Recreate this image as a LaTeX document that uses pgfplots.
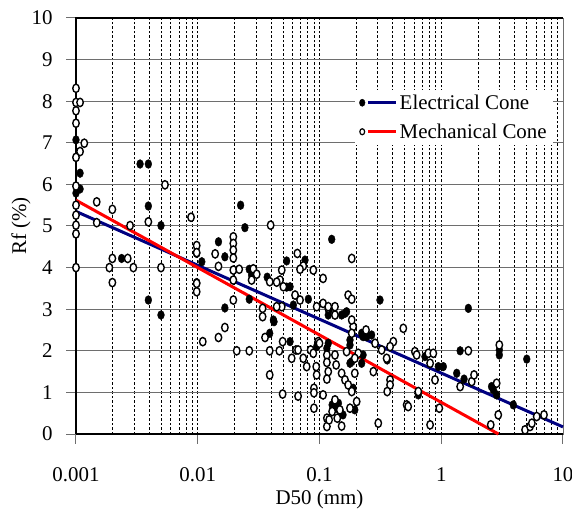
\documentclass[border=0pt]{standalone}
\usepackage{pgfplots}
\pgfplotsset{compat=1.18}
\usepackage{fontspec}
\setmainfont{Liberation Serif}
\definecolor{navy}{RGB}{0,0,128}
\definecolor{gridgray}{RGB}{110,110,110}
\begin{document}
\begin{tikzpicture}
\begin{axis}[
  at={(0,0)}, anchor=south west,
  scale only axis, width=487bp, height=416bp,
  xmode=log, xmin=0.001, xmax=10, ymin=0, ymax=10,
  ytick={0,1,...,10},
  xtick={0.001,0.01,0.1,1,10},
  minor xtick={0.002,0.003,0.004,0.005,0.006,0.007,0.008,0.009,
               0.02,0.03,0.04,0.05,0.06,0.07,0.08,0.09,
               0.2,0.3,0.4,0.5,0.6,0.7,0.8,0.9,
               2,3,4,5,6,7,8,9},
  xticklabels={0.001,0.01,0.1,1,10},
  /pgf/number format/assume math mode=true,
  font=\fontsize{21}{25}\selectfont,
  tick label style={font=\fontsize{21}{25}\selectfont},
  yticklabel style={xshift=-10bp},
  xticklabel style={yshift=-20bp},
  xmajorgrids, xminorgrids, ymajorgrids,
  major x grid style={black, line width=0.6bp, dash pattern=on 2.5bp off 2bp},
  minor x grid style={black, line width=0.6bp, dash pattern=on 2.5bp off 2bp},
  major y grid style={gridgray, line width=1bp},
  axis line style={gridgray, line width=0.8bp},
  tick pos=left, tick align=outside,
  major tick length=10bp, minor tick length=0pt,
  tick style={gridgray, line width=1bp},
  clip=false,
  xlabel={D50 (mm)}, ylabel={Rf (\%)},
  every axis x label/.style={at={(axis description cs:0.5,0)}, yshift=-65bp, anchor=center},
  every axis y label/.style={at={(axis description cs:0,0.5)}, xshift=-55bp, rotate=90, anchor=center},
  legend style={at={(rel axis cs:0.573,0.828)}, anchor=north west, draw=none, fill=white,
    font=\fontsize{21}{25}\selectfont, inner xsep=4bp, inner ysep=3bp, row sep=9bp,
    legend cell align=left},
]
\draw[black, line width=2bp] (rel axis cs:0,0) -- (rel axis cs:0,1) -- (rel axis cs:1,1);
\draw[black, line width=2bp] (rel axis cs:0,0) -- (rel axis cs:1,0);

% Electrical Cone (filled)
\addplot[only marks, mark=*, mark size=4bp, mark options={fill=black, draw=black, xscale=0.85, yscale=1.1}, forget plot] coordinates {
(0.001,7.07)(0.00108,6.27)(0.00108,5.89)(0.001,5.79)(0.00237,4.22)(0.00336,6.49)(0.00393,6.49)
(0.00393,5.48)(0.00393,3.22)(0.00499,5.01)(0.00499,2.86)(0.0098,4.34)(0.0108,4.14)(0.0098,3.64)
(0.0148,4.62)(0.0167,4.26)(0.0167,3.03)(0.0225,5.50)(0.0244,4.96)(0.0265,3.96)(0.0277,3.82)
(0.0265,3.24)(0.0372,3.77)(0.0418,2.74)(0.0537,4.16)(0.0537,3.53)(0.0573,3.54)(0.076,4.18)
(0.081,3.24)(0.061,3.10)(0.039,2.42)(0.0423,2.70)(0.0573,2.22)(0.0948,2.10)(0.126,4.68)
(0.314,3.22)(0.12,2.98)(0.118,2.86)(0.152,2.86)(0.162,2.90)(0.167,2.94)(0.118,2.18)(0.115,2.06)
(0.127,0.70)(0.143,0.74)(0.137,0.62)(0.156,0.46)(0.189,1.10)(0.195,0.58)(0.178,2.26)(0.178,2.14)
(0.178,1.70)(0.184,1.74)(0.222,2.42)(0.228,2.34)(0.244,2.34)(0.228,1.90)(0.222,1.70)(0.268,2.38)
(0.36,1.78)(0.648,0.94)(0.735,1.86)(0.946,1.62)(1.04,1.62)(1.34,1.46)(1.67,3.02)(1.43,2.0)
(3.0,2.02)(3.0,1.90)(5.04,1.80)(1.54,1.32)(2.59,1.14)(2.68,1.06)(2.85,0.94)(3.91,0.70)
};
% Mechanical Cone (open)
\addplot[only marks, mark=*, mark size=3.8bp, mark options={fill=white, draw=black, line width=1.4bp, xscale=0.85, yscale=1.1}, forget plot] coordinates {
(0.001,8.31)(0.001,7.97)(0.00108,7.97)(0.001,7.77)(0.001,7.47)(0.00117,6.99)(0.00108,6.79)
(0.001,6.65)(0.001,5.96)(0.001,5.5)(0.001,5.26)(0.001,5.02)(0.001,4.81)(0.001,4.0)
(0.00148,5.58)(0.00148,5.08)(0.00199,5.40)(0.00199,4.22)(0.00188,4.0)(0.00199,3.64)
(0.00266,4.22)(0.00296,4.0)(0.00278,5.01)(0.00393,5.10)(0.00499,4.0)(0.00538,5.99)
(0.00881,5.21)(0.0098,4.53)(0.0098,3.42)(0.0098,4.36)(0.0098,3.62)(0.0139,4.33)(0.0148,4.03)
(0.0196,4.74)(0.0196,4.58)(0.0196,4.42)(0.0196,4.23)(0.0196,3.94)(0.0196,3.70)(0.0196,3.22)
(0.0219,3.96)(0.0286,3.97)(0.0305,3.84)(0.0277,3.70)(0.0397,5.02)(0.0341,3.02)(0.0341,2.82)
(0.049,3.94)(0.0474,3.70)(0.0445,3.65)(0.0505,3.54)(0.0658,4.34)(0.0736,4.04)(0.0692,3.96)
(0.089,3.94)(0.107,3.74)(0.063,3.34)(0.0692,3.22)(0.0948,3.06)(0.107,3.14)(0.118,3.02)
(0.049,3.06)(0.0445,3.06)(0.039,3.66)(0.011,2.22)(0.0148,2.32)(0.0167,2.56)(0.0209,2.0)
(0.0265,2.0)(0.0357,2.32)(0.039,2.0)(0.0468,2.0)(0.0498,2.22)(0.039,1.42)(0.0498,0.96)
(0.0591,1.82)(0.0641,2.02)(0.0667,2.02)(0.0736,1.82)(0.0785,1.62)(0.0667,0.91)(0.0845,2.02)
(0.089,1.94)(0.094,1.62)(0.0948,1.42)(0.090,1.10)(0.090,0.99)(0.090,0.62)(0.107,0.94)
(0.0975,2.22)(0.115,1.90)(0.115,1.72)(0.118,1.50)(0.115,1.32)(0.115,0.38)(0.115,0.18)
(0.1,2.18)(0.134,1.90)(0.137,1.66)(0.152,1.46)(0.162,1.30)(0.172,1.18)(0.134,0.82)
(0.147,0.58)(0.140,0.38)(0.152,0.19)(0.120,0.34)(0.127,0.54)(0.184,1.02)(0.202,0.78)
(0.178,0.62)(0.195,1.46)(0.189,2.58)(0.184,2.42)(0.167,1.98)(0.208,1.94)(0.195,1.82)
(0.277,1.50)(0.286,2.18)(0.304,0.26)(0.324,2.02)(0.356,1.82)(0.404,2.22)(0.38,2.10)
(0.38,1.30)(0.38,1.18)(0.36,1.02)(0.488,2.54)(0.52,0.70)(0.535,0.66)(0.608,1.98)(0.628,1.90)
(0.648,1.02)(0.783,1.94)(0.861,1.94)(0.81,1.70)(0.889,1.30)(0.81,0.22)(0.964,0.62)
(1.43,1.14)(1.67,2.0)(3.0,2.14)(1.78,1.26)(1.86,1.42)(2.85,1.22)(2.94,0.46)(2.55,0.22)
(4.88,0.10)(5.36,0.18)(5.55,0.26)(6.08,0.42)(6.98,0.46)(0.184,4.22)(0.172,3.34)(0.184,3.24)
(0.118,3.06)(0.134,3.06)(0.134,2.86)(0.184,2.74)(0.241,2.5)
};
% trend lines
\addplot[navy, line width=3bp, forget plot] coordinates {(0.001,5.35) (10,0.17)};
\addplot[red, line width=3bp, forget plot] coordinates {(0.001,5.62) (2.95,0)};

\addlegendimage{legend image code/.code={
  \fill[black] (0bp,0bp) ellipse (2.8bp and 3.6bp);
  \draw[navy, line width=3bp] (6bp,0bp) -- (34bp,0bp);}}
\addlegendentry{Electrical Cone}
\addlegendimage{legend image code/.code={
  \draw[black, fill=white, line width=1.2bp] (0bp,0bp) ellipse (2.4bp and 3.0bp);
  \draw[red, line width=3bp] (6bp,0bp) -- (34bp,0bp);}}
\addlegendentry{Mechanical Cone}
\end{axis}
\pgfresetboundingbox
\path[use as bounding box] (-76bp,-84bp) rectangle (496bp,434bp);
\end{tikzpicture}
\end{document}
